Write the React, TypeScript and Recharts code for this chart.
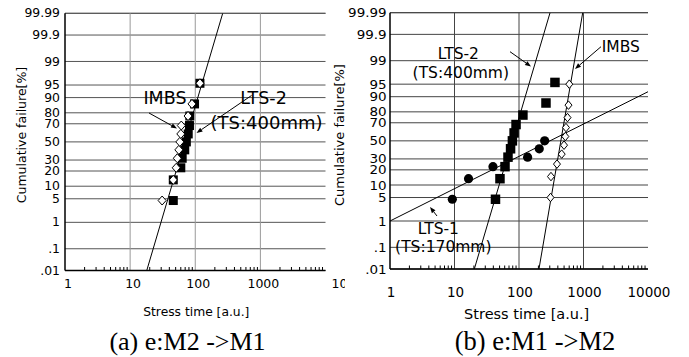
import React from 'react';
import { ScatterChart, Scatter, XAxis, YAxis, CartesianGrid, ReferenceLine } from 'recharts';

// ---------- axis ticks ----------
const Y_TICK_PCT = [0.01, 0.1, 1, 5, 10, 20, 30, 50, 70, 80, 90, 95, 99, 99.9, 99.99];
const Y_TICK_LABELS = ['.01', '.1', '1', '5', '10', '20', '30', '50', '70', '80', '90', '95', '99', '99.9', '99.99'];
const X_MAJOR = [1, 10, 100, 1000, 10000];
const X_GRID = [10, 100, 1000];
const X_TICKS = [
  1, 2, 3, 4, 5, 6, 7, 8, 9,
  10, 20, 30, 40, 50, 60, 70, 80, 90,
  100, 200, 300, 400, 500, 600, 700, 800, 900,
  1000, 2000, 3000, 4000, 5000, 6000, 7000, 8000, 9000,
  10000,
];

// ---------- (a) e:M2 ->M1 ----------
const A_RANK = [4.5, 13.6, 22.7, 31.8, 40.9, 50, 59.1, 68.2, 77.3, 86.4, 95.5];
const A_LTS2_TIME = [46, 46, 60, 63, 69, 73, 78, 81.5, 82.5, 97.5, 118];
const A_IMBS_TIME = [31, 46, 51, 53, 56, 58, 60, 61, 77.5, 89, 118];
const A_FIT_TIME = [18, 264];
const A_FIT_PCT = [0.01, 99.99];

// ---------- (b) e:M1 ->M2 ----------
const B_LTS1_RANK = [4.5, 13.6, 22.7, 31.8, 40.9, 50];
const B_LTS1_TIME = [9.25, 16.5, 39.5, 136, 206, 250];
const B_LTS2_RANK = [4.5, 13.6, 22.7, 31.8, 40.9, 50, 59.1, 68.2, 77.3, 86.4, 95.5];
const B_LTS2_TIME = [43.2, 50.7, 60.7, 67.5, 74, 79, 84, 90, 115, 262, 361];
const B_IMBS_RANK = [5, 15, 25, 35, 45, 55, 65, 75, 85, 95];
const B_IMBS_TIME = [308, 313, 388, 459, 499, 523, 535, 565, 585, 602];
const B_LTS1_FIT_TIME = [1, 10000];
const B_LTS1_FIT_PCT = [1, 92.3];
const B_LTS2_FIT_TIME = [20.3, 303];
const B_LTS2_FIT_PCT = [0.01, 99.99];
const B_IMBS_FIT_TIME = [204, 972];
const B_IMBS_FIT_PCT = [0.01, 99.99];

// ---------- normal probability transform ----------
function probit(p: number): number {
  const a = [-3.969683028665376e1, 2.209460984245205e2, -2.759285104469687e2, 1.38357751867269e2, -3.066479806614716e1, 2.506628277459239];
  const b = [-5.447609879822406e1, 1.615858368580409e2, -1.556989798598866e2, 6.680131188771972e1, -1.328068155288572e1];
  const c = [-7.784894002430293e-3, -3.223964580411365e-1, -2.400758277161838, -2.549732539343734, 4.374664141464968, 2.938163982698783];
  const d = [7.784695709041462e-3, 3.224671290700398e-1, 2.445134137142996, 3.754408661907416];
  const pl = 0.02425;
  if (p < pl) {
    const q = Math.sqrt(-2 * Math.log(p));
    return (((((c[0] * q + c[1]) * q + c[2]) * q + c[3]) * q + c[4]) * q + c[5]) / ((((d[0] * q + d[1]) * q + d[2]) * q + d[3]) * q + 1);
  }
  if (p <= 1 - pl) {
    const q = p - 0.5;
    const r = q * q;
    return ((((((a[0] * r + a[1]) * r + a[2]) * r + a[3]) * r + a[4]) * r + a[5]) * q) / (((((b[0] * r + b[1]) * r + b[2]) * r + b[3]) * r + b[4]) * r + 1);
  }
  const q = Math.sqrt(-2 * Math.log(1 - p));
  return -(((((c[0] * q + c[1]) * q + c[2]) * q + c[3]) * q + c[4]) * q + c[5]) / ((((d[0] * q + d[1]) * q + d[2]) * q + d[3]) * q + 1);
}

const Z_MIN = probit(0.0001);
const Z_MAX = probit(0.9999);
const Y_TICKS = Y_TICK_PCT.map((p) => probit(p / 100));

const pts = (times: number[], pcts: number[]) => times.map((t, i) => ({ x: t, y: probit(pcts[i] / 100) }));

// ---------- marker shapes ----------
const Empty = () => <g />;
const squareShape = (s: number) => (p: any) => <rect x={p.cx - s / 2} y={p.cy - s / 2} width={s} height={s} fill="#000" />;
const circleShape = (r: number) => (p: any) => <circle cx={p.cx} cy={p.cy} r={r} fill="#000" />;
const diamondShape = (w: number, h: number) => (p: any) => (
  <polygon
    points={`${p.cx},${p.cy - h / 2} ${p.cx + w / 2},${p.cy} ${p.cx},${p.cy + h / 2} ${p.cx - w / 2},${p.cy}`}
    fill="#fff"
    stroke="#000"
    strokeWidth={1}
  />
);

const FONT = 'DejaVu Sans';
const SERIF = 'Liberation Serif';

type Group = { data: { x: number; y: number }[]; shape: any };

type PanelProps = {
  left: number;
  width: number;
  margin: { top: number; right: number; bottom: number; left: number };
  yWidth: number;
  tickFont: number;
  yTickFont: number;
  yStretch: number;
  xDx: number;
  xDy: number;
  yGap: number;
  gridH: string;
  gridV: string;
  fits: { x: number; y: number }[][];
  groups: Group[];
  lastShift: boolean;
};

const Panel = (props: PanelProps) => {
  const { left, width, margin, yWidth, tickFont, yTickFont, yStretch, xDx, xDy, yGap, gridH, gridV, fits, groups, lastShift } = props;
  const border = { stroke: '#000', strokeWidth: 1.5 };
  const bottomTick = (p: any) => {
    const v = p.payload.value;
    if (!X_MAJOR.includes(v)) {
      return <line x1={p.x} x2={p.x} y1={p.y} y2={p.y - 3.5} stroke="#000" strokeWidth={1} />;
    }
    const shifted = lastShift && v === 10000;
    return (
      <text x={shifted ? p.x + 6 : p.x + xDx} y={p.y + xDy} textAnchor={shifted ? 'start' : 'middle'} fontSize={tickFont} fontFamily={FONT} fill="#000">
        {String(v)}
      </text>
    );
  };
  const topTick = (p: any) => {
    const v = p.payload.value;
    if (X_MAJOR.includes(v)) return <g />;
    return <line x1={p.x} x2={p.x} y1={p.y} y2={p.y + 3.5} stroke="#000" strokeWidth={1} />;
  };
  const yTick = (p: any) => (
    <text
      transform={`translate(${p.x - yGap},${p.y}) scale(${yStretch},1)`}
      x={0}
      y={0}
      dy="0.36em"
      textAnchor="end"
      fontSize={yTickFont}
      fontFamily={FONT}
      fill="#000"
    >
      {Y_TICK_LABELS[p.index]}
    </text>
  );
  return (
    <div style={{ position: 'absolute', left, top: 0 }}>
      <ScatterChart width={width} height={357} margin={margin}>
        <CartesianGrid horizontal vertical={false} stroke={gridH} strokeWidth={1} />
        <XAxis
          type="number"
          dataKey="x"
          scale="log"
          domain={[1, 10000]}
          allowDataOverflow
          ticks={X_TICKS}
          interval={0}
          height={40}
          tickSize={0}
          tickMargin={0}
          tickLine={false}
          axisLine={border}
          tick={bottomTick}
        />
        <XAxis
          xAxisId="top"
          orientation="top"
          type="number"
          dataKey="x"
          scale="log"
          domain={[1, 10000]}
          allowDataOverflow
          ticks={X_TICKS}
          interval={0}
          height={0}
          tickSize={0}
          tickMargin={0}
          tickLine={false}
          axisLine={border}
          tick={topTick}
        />
        <YAxis
          type="number"
          dataKey="y"
          domain={[Z_MIN, Z_MAX]}
          allowDataOverflow
          ticks={Y_TICKS}
          interval={0}
          width={yWidth}
          tickSize={0}
          tickMargin={0}
          tickLine={false}
          axisLine={border}
          tick={yTick}
        />
        <YAxis
          yAxisId="right"
          orientation="right"
          type="number"
          domain={[Z_MIN, Z_MAX]}
          allowDataOverflow
          width={0}
          tick={false}
          tickLine={false}
          axisLine={border}
        />
        {X_GRID.map((v) => (
          <ReferenceLine key={'g' + v} x={v} stroke={gridV} strokeWidth={1} />
        ))}
        {fits.map((f, i) => (
          <Scatter key={'f' + i} data={f} line={{ stroke: '#000', strokeWidth: 1 }} shape={Empty} isAnimationActive={false} />
        ))}
        {groups.map((g, i) => (
          <Scatter key={'s' + i} data={g.data} shape={g.shape} isAnimationActive={false} />
        ))}
      </ScatterChart>
    </div>
  );
};

const Arrow = ({ x1, y1, x2, y2 }: { x1: number; y1: number; x2: number; y2: number }) => {
  const ang = Math.atan2(y2 - y1, x2 - x1);
  const L = 6;
  const W = 2.3;
  const bx = x2 - L * Math.cos(ang);
  const by = y2 - L * Math.sin(ang);
  const px = -Math.sin(ang) * W;
  const py = Math.cos(ang) * W;
  return (
    <g>
      <line x1={x1} y1={y1} x2={bx} y2={by} stroke="#000" strokeWidth={1} />
      <polygon points={`${x2},${y2} ${bx + px},${by + py} ${bx - px},${by - py}`} fill="#000" />
    </g>
  );
};

export default function App() {
  const aFits = [pts(A_FIT_TIME, A_FIT_PCT)];
  const aGroups: Group[] = [
    { data: pts(A_LTS2_TIME, A_RANK), shape: squareShape(9) },
    { data: pts(A_IMBS_TIME, A_RANK), shape: diamondShape(8, 9) },
  ];
  const bFits = [pts(B_LTS1_FIT_TIME, B_LTS1_FIT_PCT), pts(B_LTS2_FIT_TIME, B_LTS2_FIT_PCT), pts(B_IMBS_FIT_TIME, B_IMBS_FIT_PCT)];
  const bGroups: Group[] = [
    { data: pts(B_LTS2_TIME, B_LTS2_RANK), shape: squareShape(9.5) },
    { data: pts(B_LTS1_TIME, B_LTS1_RANK), shape: circleShape(4.6) },
    { data: pts(B_IMBS_TIME, B_IMBS_RANK), shape: diamondShape(7, 8.5) },
  ];
  return (
    <div style={{ position: 'absolute', left: 0, top: 0, width: 689, height: 357, background: '#fff', overflow: 'hidden' }}>
      <Panel
        left={0}
        width={345}
        margin={{ top: 13.3, right: 19.5, bottom: 46.5, left: 0 }}
        yWidth={65}
        tickFont={12.5}
        yTickFont={11.5}
        yStretch={1.08}
        xDx={3}
        xDy={17.5}
        yGap={5}
        gridH="#555"
        gridV="#999"
        fits={aFits}
        groups={aGroups}
        lastShift={true}
      />
      <Panel
        left={345}
        width={344}
        margin={{ top: 12.7, right: 41, bottom: 48, left: 0 }}
        yWidth={45}
        tickFont={13.5}
        yTickFont={12.5}
        yStretch={1.08}
        xDx={1}
        xDy={27.5}
        yGap={3.3}
        gridH="#444"
        gridV="#444"
        fits={bFits}
        groups={bGroups}
        lastShift={false}
      />
      <svg width={689} height={357} style={{ position: 'absolute', left: 0, top: 0, pointerEvents: 'none' }}>
        {/* panel (a) texts */}
        <text x={21.5} y={135} transform="rotate(-90 21.5 135)" textAnchor="middle" dominantBaseline="central" fontSize={12.5} fontFamily={FONT} fill="#000">
          Cumulative failure[%]
        </text>
        <text x={196.3} y={316} textAnchor="middle" fontSize={12.3} fontFamily={FONT} fill="#000">
          Stress time [a.u.]
        </text>
        <text x={187.5} y={350} textAnchor="middle" fontSize={26} fontFamily={SERIF} fill="#000">
          (a) e:M2 -&gt;M1
        </text>
        <text x={165} y={103.5} textAnchor="middle" fontSize={17.5} fontFamily={FONT} fill="#000">IMBS</text>
        <text x={263.5} y={103.5} textAnchor="middle" fontSize={17.5} fontFamily={FONT} fill="#000">LTS-2</text>
        <text x={266.5} y={129} textAnchor="middle" fontSize={18} fontFamily={FONT} fill="#000">(TS:400mm)</text>
        <Arrow x1={149} y1={113} x2={177} y2={128.5} />
        <Arrow x1={251.5} y1={95.5} x2={196.5} y2={133} />

        {/* panel (b) texts */}
        <text x={339.5} y={135} transform="rotate(-90 339.5 135)" textAnchor="middle" dominantBaseline="central" fontSize={13} fontFamily={FONT} fill="#000">
          Cumulative failure[%]
        </text>
        <text x={526.7} y={319} textAnchor="middle" fontSize={14.5} fontFamily={FONT} fill="#000">
          Stress time [a.u.]
        </text>
        <text x={535} y={350} textAnchor="middle" fontSize={26.5} fontFamily={SERIF} fill="#000">
          (b) e:M1 -&gt;M2
        </text>
        <text x={458.3} y={59} textAnchor="middle" fontSize={15.5} fontFamily={FONT} fill="#000">LTS-2</text>
        <text x={460.8} y={78.3} textAnchor="middle" fontSize={15.5} fontFamily={FONT} fill="#000">(TS:400mm)</text>
        <text x={620.8} y={52.3} textAnchor="middle" fontSize={15.5} fontFamily={FONT} fill="#000">IMBS</text>
        <text x={438.3} y={234} textAnchor="middle" fontSize={15.5} fontFamily={FONT} fill="#000">LTS-1</text>
        <text x={443.3} y={252.3} textAnchor="middle" fontSize={15.5} fontFamily={FONT} fill="#000">(TS:170mm)</text>
        <Arrow x1={510} y1={51.7} x2={531} y2={66.5} />
        <Arrow x1={601} y1={46.7} x2={575} y2={69} />
        <Arrow x1={437} y1={216} x2={430} y2={207} />
      </svg>
    </div>
  );
}
